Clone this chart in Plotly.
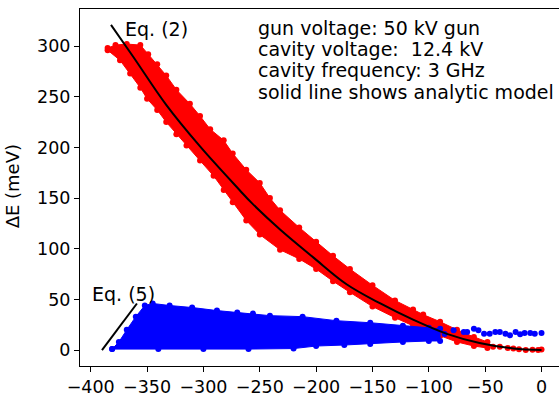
import plotly.graph_objects as go

# ---- data ----
# analytic model, Eq. (2)
eq2_x = [-382, -362, -333, -303, -268, -257, -232, -202, -173, -143, -114, -84, -55, -25, 0]
eq2_y = [321, 289, 242, 201, 158, 145, 119, 91, 65, 46, 30, 16, 7, 1.6, 0]
# Eq. (5) line
eq5_x = [-390, -359]
eq5_y = [0, 46]

# red cloud: upper edge (left->right) and lower edge (right->left)
red_up_x = [-385, -378, -368, -356, -349, -341, -333, -324, -312, -303, -294, -282, -274,
            -262, -250, -241, -232, -215, -200, -185, -170, -150, -130, -114, -105, -90,
            -75, -60, -48]
red_up_y = [298, 301, 302, 301, 292, 282, 271, 257, 243, 231, 218, 207, 194,
            178, 165, 150, 138, 121, 107, 93, 80, 64, 49, 40, 35, 28,
            20, 13, 8]
red_lo_x = [-48, -60, -75, -90, -105, -114, -130, -150, -170, -185, -200, -215, -232,
            -250, -262, -274, -282, -291, -303, -315, -324, -333, -341, -350, -356,
            -365, -374, -385]
red_lo_y = [2, 4, 8, 14, 20, 24, 32, 43, 57, 68, 80, 90, 99,
            114, 128, 146, 158, 172, 187, 202, 213, 225, 237, 248, 259,
            273, 286, 296]
# sparse red points near the origin
red_tail_x = [-63, -57, -49, -43, -37, -30, -25, -20, -14, -8, -3, 0]
red_tail_y = [8, 6.5, 5, 3.2, 3.2, 2, 1.6, 0.8, 0.2, 0.3, 0.2, 0.5]

# blue cloud: upper edge (left->right) and lower edge (right->left)
blue_up_x = [-381, -375, -368, -360, -352, -345, -330, -310, -288, -270, -256, -241,
             -212, -182, -152, -123, -100, -90]
blue_up_y = [1, 8, 20, 33, 44, 46, 44, 42, 39, 37, 36, 34,
             33, 29, 27, 24, 22, 21]
blue_lo_x = [-90, -100, -123, -152, -175, -200, -220, -260, -300, -340, -381]
blue_lo_y = [9, 9, 8, 6, 5, 4, 1.5, 1, 1, 1, 1]
# sparse blue points on the right
blue_tail_x = [-105, -95, -86, -78, -69, -66, -60, -56, -51, -46, -41, -37, -32, -28,
               -23, -19, -15, -10, -6, 0]
blue_tail_y = [14.7, 12, 16, 19.6, 17.9, 17.9, 21.1, 19.6, 16.2, 16.2, 17.9, 17.9, 16.2,
               14.7, 17.9, 15.6, 16.9, 16.9, 16.2, 16.9]

x_ticks = [-400, -350, -300, -250, -200, -150, -100, -50, 0]
x_tick_labels = ["\u2212400", "\u2212350", "\u2212300", "\u2212250", "\u2212200",
                 "\u2212150", "\u2212100", "\u221250", "0"]
y_ticks = [0, 50, 100, 150, 200, 250, 300]
y_tick_labels = ["0", "50", "100", "150", "200", "250", "300"]

info_lines = ["gun voltage: 50 kV gun",
              "cavity voltage:&nbsp; 12.4 kV",
              "cavity frequency: 3 GHz",
              "solid line shows analytic model"]

RED = "#ff0000"
BLUE = "#0000ff"
FONT = "DejaVu Sans"

fig = go.Figure()


def cloud(xu, yu, xl, yl, color):
    fig.add_trace(go.Scatter(
        x=xu + xl, y=yu + yl, mode="lines+markers", fill="toself",
        fillcolor=color, line=dict(color=color, width=1),
        marker=dict(color=color, size=6), hoverinfo="skip", showlegend=False))


cloud(red_up_x, red_up_y, red_lo_x, red_lo_y, RED)
fig.add_trace(go.Scatter(x=red_tail_x, y=red_tail_y, mode="markers",
                         marker=dict(color=RED, size=6), showlegend=False))
cloud(blue_up_x, blue_up_y, blue_lo_x, blue_lo_y, BLUE)
fig.add_trace(go.Scatter(x=blue_tail_x, y=blue_tail_y, mode="markers",
                         marker=dict(color=BLUE, size=6), showlegend=False))

fig.add_trace(go.Scatter(x=eq2_x, y=eq2_y, mode="lines", line=dict(color="black", width=2, shape="spline"),
                         showlegend=False))
fig.add_trace(go.Scatter(x=eq5_x, y=eq5_y, mode="lines", line=dict(color="black", width=2),
                         showlegend=False))

annotations = [
    dict(x=-371, y=317, text="Eq. (2)", xanchor="left", yanchor="middle"),
    dict(x=-401, y=55, text="Eq. (5)", xanchor="left", yanchor="middle"),
]
info_y = [318, 297, 276, 255]
for t, yy in zip(info_lines, info_y):
    annotations.append(dict(x=-253, y=yy, text=t, xanchor="left", yanchor="middle"))
for a in annotations:
    a.update(xref="x", yref="y", showarrow=False, font=dict(family=FONT, size=19, color="black"))
# y-axis title
annotations.append(dict(x=-0.139, y=162, xref="paper", yref="y", text="ΔE (meV)",
                        textangle=-90, showarrow=False, xanchor="center", yanchor="middle",
                        font=dict(family=FONT, size=18, color="black")))

fig.update_layout(
    width=559, height=397,
    margin=dict(l=80, r=0, t=9, b=28),
    plot_bgcolor="white", paper_bgcolor="white",
    font=dict(family=FONT, size=17.5, color="black"),
    annotations=annotations,
    xaxis=dict(range=[-409.5, 15.5], tickvals=x_ticks, ticktext=x_tick_labels,
               showgrid=False, zeroline=False,
               showline=True, linecolor="black", linewidth=1, mirror=True,
               ticks="outside", ticklen=5, tickcolor="black", tickfont=dict(size=17.5)),
    yaxis=dict(range=[-15.7, 336.6], tickvals=y_ticks, ticktext=y_tick_labels,
               showgrid=False, zeroline=False,
               showline=True, linecolor="black", linewidth=1, mirror=False,
               ticks="outside", ticklen=5, tickcolor="black", tickfont=dict(size=17.5)),
)

fig.write_html("out.html", config={"displayModeBar": False},
               post_script="document.body.style.margin='0';document.body.style.overflow='hidden';")
